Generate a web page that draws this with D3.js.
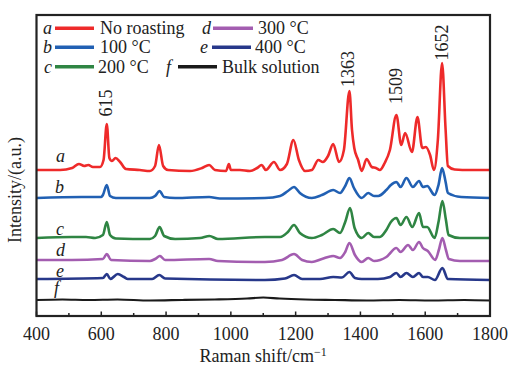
<html>
<head>
<script src="https://d3js.org/d3.v7.min.js"></script>
<style>
  body { margin: 0; background: #fff; }
  text { font-family: "Liberation Serif", "Times New Roman", serif; }
</style>
</head>
<body>
<script>
// series labels, names, colours
const letters = ["a", "b", "c", "d", "e", "f"];
const names = ["No roasting", "100 \u00b0C", "200 \u00b0C", "300 \u00b0C", "400 \u00b0C", "Bulk solution"];
const colors = ["#ee2a2a", "#2160b3", "#2f8543", "#a35db0", "#27388a", "#1a1a1a"];

// x ticks and peak labels
const xTicks = [400, 600, 800, 1000, 1200, 1400, 1600, 1800];
const peakLabels = [615, 1363, 1509, 1652];

// spectra: [Raman shift, intensity (a.u., curves stacked)]
const specA = [[400,146],[473,146],[510,148],[531,152],[547,150],[560,151],[574,149],[596,149],[607,156],[617,192],[625,158],[633,155],[644,158],[658,154],[676,147],[719,146],[750,145],[766,150],[778,171],[791,150],[806,146],[874,145],[911,148],[933,151],[951,146],[985,145],[994,152],[1000,146],[1028,146],[1059,145],[1081,148],[1095,151],[1108,146],[1133,154],[1152,146],[1173,152],[1193,176],[1210,156],[1229,145],[1250,146],[1270,156],[1284,154],[1300,160],[1316,172],[1334,154],[1349,166],[1366,225],[1374,186],[1381,168],[1393,156],[1404,145],[1419,157],[1435,149],[1448,148],[1460,146],[1475,153],[1491,166],[1511,201],[1526,171],[1538,183],[1559,164],[1576,199],[1591,168],[1602,169],[1615,161],[1627,146],[1639,176],[1652,253],[1663,186],[1670,150],[1691,146.5],[1738,146],[1800,146]];
const specB = [[400,118],[540,119],[600,119],[605,121],[617,131],[627,120],[645,118],[750,118],[766,120],[780,125],[794,119],[828,118],[933,119],[966,117.5],[1105,118],[1152,120],[1176,125],[1195,129],[1213,123],[1250,118],[1281,121],[1316,126],[1337,123],[1353,130],[1366,138],[1380,128],[1404,118],[1424,123],[1442,120],[1455,120],[1480,126],[1494,131],[1511,134],[1524,129],[1542,138],[1562,129],[1581,135],[1593,129],[1606,130],[1629,121],[1641,131],[1652,148],[1663,134],[1670,123],[1711,119],[1800,118]];
const specC = [[400,78],[509,79],[553,79],[581,78],[605,81],[617,94],[627,81],[645,77.5],[750,77],[766,80],[780,89],[794,80],[828,77],[905,78],[934,80],[960,77],[1105,79],[1152,79],[1176,84],[1195,91],[1213,83],[1250,78],[1281,81],[1316,87],[1337,83],[1353,94],[1368,108],[1382,88],[1404,78],[1424,83],[1442,79],[1460,79],[1480,86],[1494,94],[1511,98],[1524,91],[1542,99],[1560,89],[1581,103],[1593,89],[1606,89],[1629,78],[1641,94],[1653,115],[1664,96],[1672,81],[1707,78],[1800,78]];
const specD = [[400,56],[509,56],[605,57],[617,62],[630,56],[750,55],[766,57],[781,60],[797,56],[933,57],[960,55],[1105,54],[1158,56],[1195,62],[1220,56],[1250,54],[1281,57],[1316,60],[1337,58],[1353,64],[1366,73],[1383,61],[1404,54],[1424,58],[1442,55],[1480,59],[1511,68],[1524,64],[1547,71],[1562,66],[1581,74],[1593,68],[1608,65],[1631,56],[1642,66],[1653,78],[1664,66],[1673,57],[1707,55],[1800,55]];
const specE = [[400,37],[605,38],[617,42],[628,37],[651,42],[670,39],[682,37],[757,37],[779,41],[797,37.5],[1105,36],[1167,37.5],[1195,41],[1220,37],[1275,37],[1316,39],[1343,38.5],[1366,44],[1383,38],[1404,37],[1454,37],[1491,39],[1511,43],[1524,39],[1542,43],[1562,39],[1581,43],[1593,39],[1608,39],[1630,36],[1653,48],[1670,37],[1800,36]];
const specF = [[400,16],[480,16.5],[560,16],[650,16.5],[750,15.5],[850,16],[950,16.5],[1050,17.5],[1100,18.5],[1150,17.5],[1230,16.5],[1320,16],[1420,15.5],[1520,16],[1620,15.5],[1720,16],[1800,15.5]];

const spectra = [specA, specB, specC, specD, specE, specF];

const W = 517, H = 367;
const svg = d3.select("body").append("svg")
    .attr("width", W)
    .attr("height", H);

const x = d3.scaleLinear().domain([400, 1800]).range([36.5, 490]);
const y = d3.scaleLinear().domain([0, 301]).range([316, 15]);

// bottom axis, ticks pointing inward
const axis = svg.append("g").attr("transform", "translate(0,316)");
axis.selectAll("line.minor")
    .data(d3.range(500, 1800, 200))
    .join("line")
    .attr("x1", d => x(d)).attr("x2", d => x(d))
    .attr("y1", 0).attr("y2", -3)
    .attr("stroke", "#222").attr("stroke-width", 1.5);
axis.selectAll("line.major")
    .data(xTicks)
    .join("line")
    .attr("x1", d => x(d)).attr("x2", d => x(d))
    .attr("y1", 0).attr("y2", -4.5)
    .attr("stroke", "#222").attr("stroke-width", 1.5);
axis.selectAll("text")
    .data(xTicks)
    .join("text")
    .attr("x", d => x(d))
    .attr("y", 24)
    .attr("text-anchor", "middle")
    .attr("font-size", 18)
    .attr("fill", "#222")
    .text(d => d);

// axis titles
const xt = svg.append("text")
    .attr("x", x(1100))
    .attr("y", 361.5)
    .attr("text-anchor", "middle")
    .attr("font-size", 18)
    .attr("fill", "#222");
xt.append("tspan").text("Raman shift/cm");
xt.append("tspan").attr("dy", -6).attr("font-size", 12).text("\u22121");

svg.append("text")
    .attr("transform", "translate(21,190) rotate(-90)")
    .attr("text-anchor", "middle")
    .attr("font-size", 18)
    .attr("fill", "#222")
    .text("Intensity/(a.u.)");

// spectra
const line = d3.line()
    .x(d => x(d[0]))
    .y(d => y(d[1]))
    .curve(d3.curveMonotoneX);

spectra.forEach((s, i) => {
  svg.append("path")
    .datum(s)
    .attr("d", line)
    .attr("fill", "none")
    .attr("stroke", colors[i])
    .attr("stroke-width", i == 5 ? 2.2 : 2.6)
    .attr("stroke-linejoin", "round");
});

// curve letters
const curveLabelPos = [[56, 161.5], [55, 193], [56, 235], [56, 256], [56, 276.5], [54, 294]];
letters.forEach((l, i) => {
  svg.append("text")
    .attr("x", curveLabelPos[i][0])
    .attr("y", curveLabelPos[i][1])
    .attr("font-size", 18)
    .attr("font-style", "italic")
    .attr("fill", "#222")
    .text(l);
});

// peak labels (rotated)
const peakY = {615: 116.5, 1363: 87, 1509: 104, 1652: 60.5};
peakLabels.forEach(p => {
  svg.append("text")
    .attr("transform", `translate(${x(p) + 6},${peakY[p]}) rotate(-90)`)
    .attr("font-size", 18)
    .attr("fill", "#222")
    .text(p);
});

// legend
const legendPos = [
  {lx: 43, x1: 55, x2: 94, tx: 100, row: 0},
  {lx: 43, x1: 55, x2: 94, tx: 100, row: 1},
  {lx: 44, x1: 55, x2: 94, tx: 98, row: 2},
  {lx: 202, x1: 213, x2: 253, tx: 258, row: 0},
  {lx: 200, x1: 212, x2: 251, tx: 255, row: 1},
  {lx: 166, x1: 178, x2: 217, tx: 222, row: 2}
];
const rowBase = [33.5, 53, 72.5];
const rowLine = [28.3, 47.3, 66.7];
legendPos.forEach((p, i) => {
  const g = svg.append("g");
  g.append("text")
    .attr("x", p.lx).attr("y", rowBase[p.row])
    .attr("font-size", 18).attr("font-style", "italic")
    .attr("fill", "#222")
    .text(letters[i]);
  g.append("line")
    .attr("x1", p.x1).attr("x2", p.x2)
    .attr("y1", rowLine[p.row]).attr("y2", rowLine[p.row])
    .attr("stroke", colors[i]).attr("stroke-width", 3.5);
  g.append("text")
    .attr("x", p.tx).attr("y", rowBase[p.row])
    .attr("font-size", 18)
    .attr("fill", "#222")
    .text(names[i]);
});

// frame
svg.append("rect")
    .attr("x", 36.5).attr("y", 15)
    .attr("width", 453.5).attr("height", 301)
    .attr("fill", "none")
    .attr("stroke", "#222")
    .attr("stroke-width", 2.2);
</script>
</body>
</html>
